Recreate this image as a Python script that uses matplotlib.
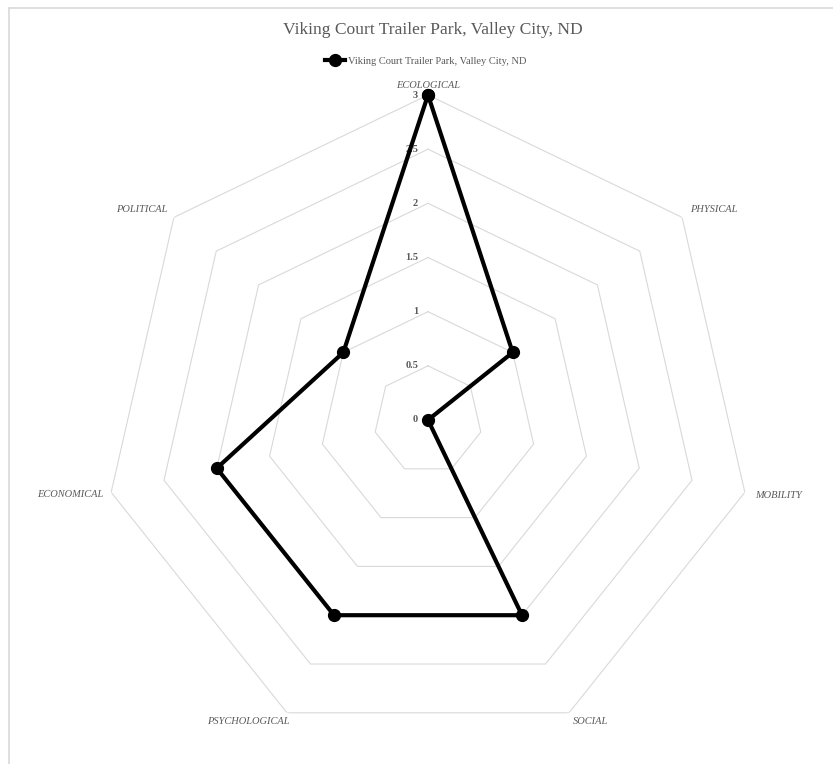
import numpy as np
import matplotlib
matplotlib.use("Agg")
import matplotlib.pyplot as plt
from matplotlib.lines import Line2D

# =====================================================
# DATA
# =====================================================

TITLE = "Viking Court Trailer Park, Valley City, ND"
SERIES_NAME = "Viking Court Trailer Park, Valley City, ND"

categories = ["ECOLOGICAL", "PHYSICAL", "MOBILITY", "SOCIAL",
              "PSYCHOLOGICAL", "ECONOMICAL", "POLITICAL"]
values = [3, 1, 0, 2, 2, 2, 1]

ring_levels = [0.5, 1, 1.5, 2, 2.5, 3]
tick_levels = [0, 0.5, 1, 1.5, 2, 2.5, 3]
tick_labels = ["0", "0.5", "1", "1.5", "2", "2.5", "3"]

# label offsets in pixels (dx, dy, ha)
label_offsets = [(0, 9, "center"), (8, 8, "left"), (10, -3, "left"),
                 (4, -9, "left"), (3, -9, "right"), (-8, -2, "right"),
                 (-6, 8, "right")]

TEXT_COLOR = "#595959"
GRID_COLOR = "#d9d9d9"
FONT = "Liberation Serif"

# =====================================================

W, H = 833, 764
fig = plt.figure(figsize=(W / 100, H / 100), dpi=100)

cx, cy, rad = 428, 420, 325
ax = fig.add_axes([(cx - rad) / W, 1 - (cy + rad) / H, 2 * rad / W, 2 * rad / H],
                  projection="polar")
ax.set_theta_offset(np.pi / 2)
ax.set_theta_direction(-1)
ax.set_ylim(0, 3)
ax.grid(False)
ax.spines["polar"].set_visible(False)
ax.set_xticks([])
ax.set_yticks([])
ax.patch.set_alpha(0)

n = len(categories)
angles = np.linspace(0, 2 * np.pi, n, endpoint=False)
angles_closed = np.append(angles, angles[0])

# -------- heptagon gridlines --------
for lvl in ring_levels:
    ax.plot(angles_closed, [lvl] * (n + 1), color=GRID_COLOR, lw=0.8, zorder=1)

# -------- data series --------
vals_closed = values + [values[0]]
ax.plot(angles_closed, vals_closed, color="black", lw=3, marker="o",
        markersize=8.5, zorder=3, label=SERIES_NAME, clip_on=False)

# -------- tick labels --------
for lvl, lab in zip(tick_levels, tick_labels):
    ax.annotate(lab, xy=(0, lvl), xytext=(-10, 0), textcoords="offset pixels",
                ha="right", va="center", fontsize=7.5, fontweight="bold",
                color=TEXT_COLOR, family=FONT, zorder=2)

# -------- category labels --------
for ang, cat, (dx, dy, ha) in zip(angles, categories, label_offsets):
    ax.annotate(cat, xy=(ang, 3), xytext=(dx, dy), textcoords="offset pixels",
                ha=ha, va="center", fontsize=7.5, fontstyle="italic",
                color=TEXT_COLOR, family=FONT, annotation_clip=False)

# -------- title + legend --------
fig.text(433 / W, 1 - 30 / H, TITLE, ha="center", va="center",
         fontsize=12.6, color=TEXT_COLOR, family=FONT)

leg = fig.legend(loc="center", bbox_to_anchor=(426 / W, 1 - 61 / H),
                 frameon=False, handlelength=1.9, handletextpad=0.3,
                 prop={"family": FONT, "size": 7.5}, labelcolor=TEXT_COLOR)

# -------- chart area border --------
fig.add_artist(Line2D([9 / W, 1], [1 - 8 / H, 1 - 8 / H], color=GRID_COLOR,
                      lw=1.2, transform=fig.transFigure))
fig.add_artist(Line2D([9 / W, 9 / W], [0, 1 - 8 / H], color=GRID_COLOR,
                      lw=1.2, transform=fig.transFigure))

fig.savefig("out.png", dpi=100)
